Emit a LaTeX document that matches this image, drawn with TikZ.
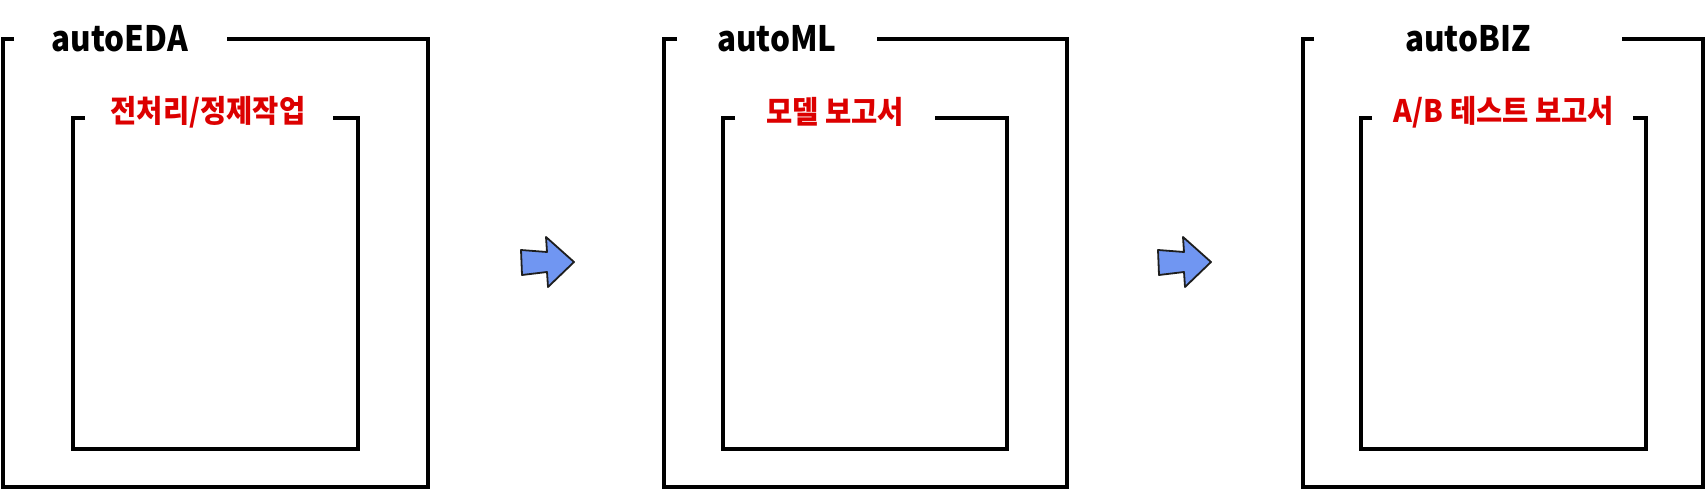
\documentclass[tikz,border=0pt]{standalone}
\usepackage{fontspec}
\newfontfamily\kr{Noto Sans CJK KR}
\definecolor{redtxt}{RGB}{220,0,0}
\definecolor{arrowfill}{RGB}{112,150,242}
\definecolor{arrowline}{RGB}{30,30,30}
\begin{document}
\begin{tikzpicture}[x=1pt,y=-1pt,
  frame/.style={line width=3.6pt, line cap=butt, line join=miter},
  title/.style={inner sep=0pt, anchor=base, font=\kr\bfseries\fontsize{35}{40}\selectfont, xscale=0.9},
  sub/.style={inner sep=0pt, anchor=center, text=redtxt, font=\kr\bfseries\fontsize{31}{36}\selectfont, xscale=0.92},
  flow/.style={fill=arrowfill, draw=arrowline, line width=1.8pt, line join=round}]
\useasboundingbox (0,0) rectangle (1706,489);

% ---------- box 1 ----------
\node[title] (t1) at (120,52) {autoEDA};
\node[sub] (s1) at (208,112) {전처리/정제작업};
\draw[frame] (14,39) -- (3,39) -- (3,487) -- (428,487) -- (428,39) -- (227,39);
\draw[frame] (85,118) -- (73,118) -- (73,449) -- (358,449) -- (358,118) -- (333,118);

% ---------- box 2 ----------
\node[title] (t2) at (777,52) {autoML};
\node[sub] (s2) at (835,112) {모델 보고서};
\draw[frame] (677,39) -- (664,39) -- (664,487) -- (1067,487) -- (1067,39) -- (877,39);
\draw[frame] (735,118) -- (723,118) -- (723,449) -- (1007,449) -- (1007,118) -- (935,118);

% ---------- box 3 ----------
\node[title] (t3) at (1468,52) {autoBIZ};
\node[sub] (s3) at (1504,112) {A/B 테스트 보고서};
\draw[frame] (1314,39) -- (1303,39) -- (1303,487) -- (1703,487) -- (1703,39) -- (1622,39);
\draw[frame] (1372,118) -- (1361,118) -- (1361,449) -- (1646,449) -- (1646,118) -- (1633,118);

% ---------- arrows ----------
\draw[flow] (521,250) -- (547,252) -- (546,237) -- (574,262) -- (548,287) -- (547,272) -- (522,275) -- cycle;
\draw[flow,xshift=637pt] (521,250) -- (547,252) -- (546,237) -- (574,262) -- (548,287) -- (547,272) -- (522,275) -- cycle;
\end{tikzpicture}
\end{document}
